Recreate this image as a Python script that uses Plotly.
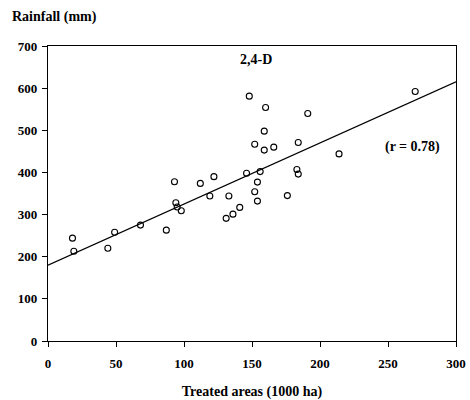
import plotly.graph_objects as go

treated = [18, 19, 44, 49, 68, 87, 93, 94, 95, 98, 112, 119, 122, 131, 133, 136, 141,
           146, 148, 152, 154, 152, 154, 156, 159, 160, 159, 166, 176, 183, 184, 184,
           191, 214, 270]
rainfall = [244, 213, 220, 258, 275, 263, 378, 328, 318, 309, 374, 344, 390, 291, 344,
            301, 317, 398, 581, 467, 377, 354, 332, 402, 453, 554, 498, 460, 345, 407,
            396, 471, 540, 444, 592]

fit_intercept = 180
fit_slope = 1.45
fit_x = [0, 300]
fit_y = [fit_intercept + fit_slope * v for v in fit_x]

font = "Liberation Serif, Times New Roman, serif"

fig = go.Figure()
fig.add_trace(go.Scatter(x=fit_x, y=fit_y, mode="lines",
                         line=dict(color="black", width=1.2), hoverinfo="skip"))
fig.add_trace(go.Scatter(x=treated, y=rainfall, mode="markers",
                         marker=dict(symbol="circle-open", size=6,
                                     color="black", line=dict(width=1.1))))

axis_common = dict(showgrid=False, zeroline=False, showline=True, linecolor="black",
                   linewidth=1.2, mirror=True, ticks="outside", ticklen=5,
                   tickcolor="black", tickwidth=1.2,
                   tickfont=dict(family=font, size=13, color="black", weight="bold"))

fig.update_layout(
    width=470, height=400,
    margin=dict(l=48, r=14, t=46, b=59, autoexpand=False),
    paper_bgcolor="white", plot_bgcolor="white",
    showlegend=False,
    xaxis=dict(range=[0, 300], tickvals=[0, 50, 100, 150, 200, 250, 300],
               ticklabelstandoff=5,
               title=dict(text="<b>Treated areas (1000 ha)</b>",
                          font=dict(family=font, size=14, color="black"), standoff=17),
               **axis_common),
    yaxis=dict(range=[0, 700], tickvals=[0, 100, 200, 300, 400, 500, 600, 700],
               ticklabelstandoff=2,
               **axis_common),
    annotations=[
        dict(text="<b>Rainfall (mm)</b>", xref="paper", yref="paper",
             x=-0.093, y=1.098, xanchor="left", yanchor="middle", showarrow=False,
             font=dict(family=font, size=14, color="black")),
        dict(text="<b>2,4-D</b>", xref="x", yref="y", x=153, y=668,
             showarrow=False, font=dict(family=font, size=14, color="black")),
        dict(text="<b>(r = 0.78)</b>", xref="x", yref="y", x=268, y=460,
             showarrow=False, font=dict(family=font, size=14, color="black")),
    ],
)

fig.write_html("out.html", config={"displayModeBar": False},
               post_script="document.body.style.margin='0';"
                           "document.body.style.overflow='hidden';")
